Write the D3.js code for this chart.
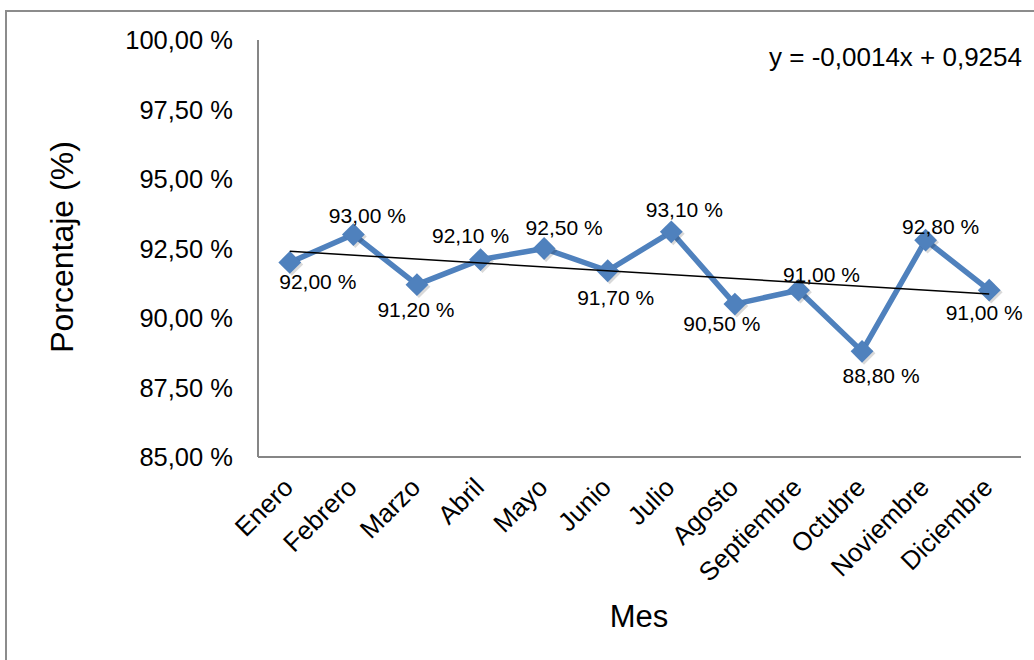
<!DOCTYPE html>
<html>
<head>
<meta charset="utf-8">
<script src="https://cdn.jsdelivr.net/npm/d3@7"></script>
<style>
  body { margin: 0; background: #fff; }
  text { font-family: "Liberation Sans", Arial, sans-serif; fill: #000; }
</style>
</head>
<body>
<svg id="chart" width="1034" height="660"></svg>
<script>
// data
var months = ["Enero", "Febrero", "Marzo", "Abril", "Mayo", "Junio", "Julio",
              "Agosto", "Septiembre", "Octubre", "Noviembre", "Diciembre"];
var values = [92.0, 93.0, 91.2, 92.1, 92.5, 91.7, 93.1, 90.5, 91.0, 88.8, 92.8, 91.0];
var yTicks = [85, 87.5, 90, 92.5, 95, 97.5, 100];
var trendSlope = -0.0014, trendIntercept = 0.9254;

// where each data label's baseline sits relative to its point (dx, dy)
var labelOffset = [[28, 27], [14, -12], [-1, 32], [-10, -17], [20, -14], [8, 34],
                   [13, -15], [-13, 27], [23, -8], [19, 32], [15, -6], [-5, 30]];

var svg = d3.select("#chart");
var fmt = function (v) { return d3.format(".2f")(v).replace(".", ",") + " %"; };

// outer frame
svg.append("rect")
    .attr("x", 6).attr("y", 11).attr("width", 1040).attr("height", 660)
    .attr("fill", "none").attr("stroke", "#8c8c8c").attr("stroke-width", 2);

var plotLeft = 258, plotRight = 1021, plotTop = 40, plotBottom = 457;

var x = d3.scalePoint().domain(months).range([plotLeft, plotRight]).padding(0.5);
var y = d3.scaleLinear().domain([85, 100]).range([plotBottom, plotTop]);

// y tick labels
svg.append("g").selectAll("text")
    .data(yTicks).enter().append("text")
    .attr("x", 233)
    .attr("y", function (d) { return y(d) + 9; })
    .attr("text-anchor", "end")
    .style("font-size", "25.5px")
    .text(fmt);

// axis lines
svg.append("line").attr("x1", plotLeft).attr("x2", plotLeft).attr("y1", plotTop).attr("y2", plotBottom)
    .attr("stroke", "#868686").attr("stroke-width", 2);
svg.append("line").attr("x1", plotLeft).attr("x2", plotRight).attr("y1", plotBottom).attr("y2", plotBottom)
    .attr("stroke", "#868686").attr("stroke-width", 2);

// month labels, rotated
svg.append("g").selectAll("text")
    .data(months).enter().append("text")
    .attr("text-anchor", "end")
    .attr("transform", function (d) { return "translate(" + (x(d) + 5) + "," + 489 + ") rotate(-45)"; })
    .style("font-size", "26px")
    .text(function (d) { return d; });

// axis titles
svg.append("text")
    .attr("transform", "translate(73,247) rotate(-90)")
    .attr("text-anchor", "middle")
    .style("font-size", "32px")
    .text("Porcentaje (%)");
svg.append("text")
    .attr("x", 639).attr("y", 627)
    .attr("text-anchor", "middle")
    .style("font-size", "31px")
    .text("Mes");

// series line
var line = d3.line()
    .x(function (d, i) { return x(months[i]); })
    .y(function (d) { return y(d); });

svg.append("path")
    .datum(values)
    .attr("fill", "none")
    .attr("stroke", "#4f81bd")
    .attr("stroke-width", 5.5)
    .attr("stroke-linejoin", "round")
    .attr("d", line);

// markers (with a soft shadow like the original)
var diamond = d3.symbol().type(d3.symbolSquare).size(260);
svg.append("g").selectAll("path.shadow")
    .data(values).enter().append("path")
    .attr("class", "shadow")
    .attr("d", diamond)
    .attr("fill", "#000").attr("opacity", 0.15)
    .attr("transform", function (d, i) { return "translate(" + (x(months[i]) + 2) + "," + (y(d) + 2) + ") rotate(45)"; });
svg.append("g").selectAll("path.mark")
    .data(values).enter().append("path")
    .attr("class", "mark")
    .attr("d", diamond)
    .attr("fill", "#4f81bd")
    .attr("transform", function (d, i) { return "translate(" + x(months[i]) + "," + y(d) + ") rotate(45)"; });

// linear trendline
var tx = [1, months.length];
svg.append("line")
    .attr("x1", x(months[0])).attr("y1", y((trendSlope * tx[0] + trendIntercept) * 100))
    .attr("x2", x(months[months.length - 1])).attr("y2", y((trendSlope * tx[1] + trendIntercept) * 100))
    .attr("stroke", "#000").attr("stroke-width", 1.5);

// data labels
svg.append("g").selectAll("text")
    .data(values).enter().append("text")
    .attr("x", function (d, i) { return x(months[i]) + labelOffset[i][0]; })
    .attr("y", function (d, i) { return y(d) + labelOffset[i][1]; })
    .attr("text-anchor", "middle")
    .style("font-size", "21px")
    .text(fmt);

// trendline equation
svg.append("text")
    .attr("x", 1022).attr("y", 66)
    .attr("text-anchor", "end")
    .style("font-size", "26px")
    .text("y = -0,0014x + 0,9254");
</script>
</body>
</html>
